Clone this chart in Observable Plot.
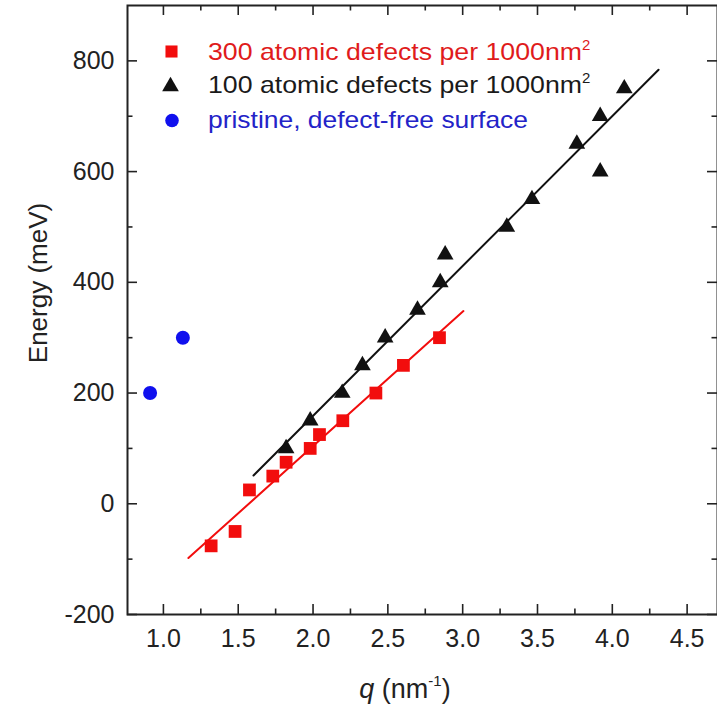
<!DOCTYPE html>
<html><head><meta charset="utf-8">
<script src="https://cdn.jsdelivr.net/npm/d3@7"></script>
<script src="https://cdn.jsdelivr.net/npm/@observablehq/plot@0.6"></script>
<style>body{margin:0;background:#fff}</style>
</head><body><div id="chart"></div>
<script>
// ---- data ----
const redQ = [1.319, 1.479, 1.575, 1.731, 1.820, 1.981, 2.043, 2.199, 2.420, 2.604, 2.845];
const redE = [-76, -50, 25, 50, 75, 100, 125, 150, 200, 250, 300];
const blackQ = [1.820, 1.981, 2.195, 2.330, 2.482, 2.698, 2.850, 2.883, 3.295, 3.463, 3.763, 3.919, 3.919, 4.080];
const blackE = [100, 150, 200, 250, 300, 350, 400, 450, 500, 550, 650, 600, 700, 750];
const blueQ = [0.911, 1.130];
const blueE = [200, 300];
const redFitQ = [1.167, 3.005];
const redFitE = [-98, 348];
const blackFitQ = [1.602, 4.309];
const blackFitE = [51, 784];
const xMajor = [1.0, 1.5, 2.0, 2.5, 3.0, 3.5, 4.0, 4.5];
const xMinor = [1.25, 1.75, 2.25, 2.75, 3.25, 3.75, 4.25];
const yMajor = [-200, 0, 200, 400, 600, 800];
const yMinor = [-100, 100, 300, 500, 700];
const legendLabels = ["300 atomic defects per 1000nm", "100 atomic defects per 1000nm", "pristine, defect-free surface"];
const legendSup = ["2", "2", ""];
const yTitle = "Energy (meV)";
const xTitleVar = "q";
const xTitleUnit = " (nm";
const xTitleSup = "-1";

const RED = "#f20d0d", BLACK = "#111", BLUE = "#1010ee";
const legendColors = ["#e01b1b", "#1a1a1a", "#2323c8"];

const zip = (xs, ys) => xs.map((x, i) => ({x, y: ys[i]}));
const red = zip(redQ, redE), black = zip(blackQ, blackE), blue = zip(blueQ, blueE);
const redFit = zip(redFitQ, redFitE), blackFit = zip(blackFitQ, blackFitE);

const W = 717, H = 717, mL = 127, mR = 0, mT = 5, mB = 103;
const innerW = W - mL - mR, innerH = H - mT - mB;
const majorLen = 10, minorLen = 5.5;
const tickStyle = {stroke: "#222", strokeWidth: 1.6};
const FONT = "'Liberation Sans', Arial, sans-serif";

const svg = Plot.plot({
  width: W, height: H,
  marginLeft: mL, marginRight: mR, marginTop: mT, marginBottom: mB,
  x: {domain: [0.76, 4.703]},
  y: {domain: [-200, 900]},
  style: {fontFamily: FONT, color: "#222", background: "#fff"},
  marks: [
    // inward ticks
    Plot.tickX(xMajor, {x: d => d, insetTop: innerH - majorLen, ...tickStyle}),
    Plot.tickX(xMinor, {x: d => d, insetTop: innerH - minorLen, ...tickStyle}),
    Plot.tickX(xMajor, {x: d => d, insetBottom: innerH - majorLen, ...tickStyle}),
    Plot.tickX(xMinor, {x: d => d, insetBottom: innerH - minorLen, ...tickStyle}),
    Plot.tickY(yMajor, {y: d => d, insetRight: innerW - majorLen, ...tickStyle}),
    Plot.tickY(yMinor, {y: d => d, insetRight: innerW - minorLen, ...tickStyle}),
    Plot.tickY(yMajor, {y: d => d, insetLeft: innerW - majorLen, ...tickStyle}),
    Plot.tickY(yMinor, {y: d => d, insetLeft: innerW - minorLen, ...tickStyle}),
    // tick labels
    Plot.axisX(xMajor, {anchor: "bottom", tickSize: 0, tickPadding: 15, fontSize: 25, tickFormat: d => d.toFixed(1), label: null, fill: "#222"}),
    Plot.axisY(yMajor, {anchor: "left", tickSize: 0, tickPadding: 13, fontSize: 25, tickFormat: d => String(d), label: null, fill: "#222"}),
    Plot.frame({stroke: "#222", strokeWidth: 2}),
    // fit lines
    Plot.line(redFit, {x: "x", y: "y", stroke: RED, strokeWidth: 2}),
    Plot.line(blackFit, {x: "x", y: "y", stroke: BLACK, strokeWidth: 2}),
    // data
    Plot.dot(red, {x: "x", y: "y", symbol: "square", r: 7.2, fill: RED}),
    Plot.dot(black, {x: "x", y: "y", symbol: "triangle", r: 6.2, fill: BLACK}),
    Plot.dot(blue, {x: "x", y: "y", symbol: "circle", r: 7, fill: BLUE}),
    // legend symbols
    Plot.dot([0], {frameAnchor: "top-left", dx: 44, dy: 46, symbol: "square", r: 6.8, fill: RED}),
    Plot.dot([0], {frameAnchor: "top-left", dx: 43, dy: 81, symbol: "triangle", r: 6.2, fill: BLACK}),
    Plot.dot([0], {frameAnchor: "top-left", dx: 44.5, dy: 115, symbol: "circle", r: 6.8, fill: BLUE}),
    // y title
    Plot.text([yTitle], {frameAnchor: "left", textAnchor: "middle", dx: -89, dy: -27, rotate: -90, fontSize: 26, fill: "#222", text: d => d})
  ]
});

const root = d3.select(svg);
const baselines = [59.5, 93, 127.5];
const mainLengths = [374, 374, 320];
legendLabels.forEach((lab, i) => {
  const t = root.append("text")
    .attr("x", 208).attr("y", baselines[i])
    .attr("text-anchor", "start")
    .attr("fill", legendColors[i])
    .attr("font-size", 24)
    .attr("font-family", FONT);
  t.append("tspan")
    .attr("textLength", mainLengths[i])
    .attr("lengthAdjust", "spacingAndGlyphs")
    .text(lab);
  if (legendSup[i]) t.append("tspan").attr("dy", -10).attr("font-size", 15).text(legendSup[i]);
});
const xt = root.append("text")
  .attr("x", 405).attr("y", 698)
  .attr("text-anchor", "middle")
  .attr("fill", "#222")
  .attr("font-size", 27)
  .attr("font-family", FONT);
xt.append("tspan").attr("font-style", "italic").text(xTitleVar);
xt.append("tspan").text(xTitleUnit);
xt.append("tspan").attr("dy", -12).attr("font-size", 15).text(xTitleSup);
xt.append("tspan").attr("dy", 12).text(")");

document.getElementById("chart").append(svg);
</script>
</body></html>
